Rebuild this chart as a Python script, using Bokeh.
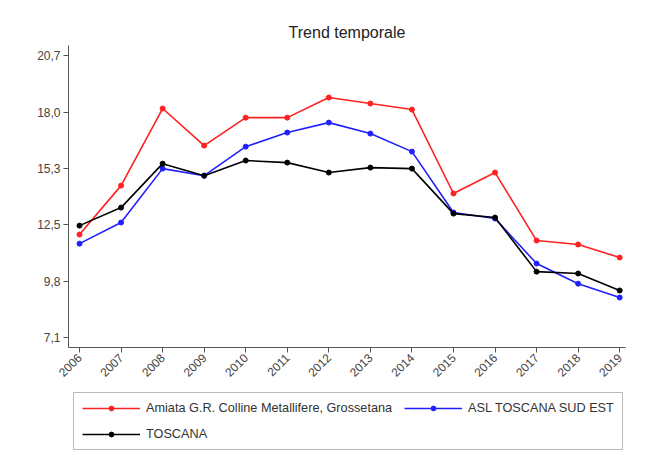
import math
from bokeh.plotting import figure
from bokeh.layouts import column
from bokeh.models import FixedTicker, Legend, LegendItem, Range1d
from bokeh.embed import file_html
from bokeh.resources import INLINE

years = [2006, 2007, 2008, 2009, 2010, 2011, 2012, 2013, 2014, 2015, 2016, 2017, 2018, 2019]
amiata = [12.07, 14.43, 18.15, 16.36, 17.71, 17.71, 18.68, 18.39, 18.10, 14.05, 15.06, 11.78, 11.59, 10.96]
asl_sud_est = [11.63, 12.65, 15.25, 14.91, 16.31, 16.99, 17.47, 16.94, 16.07, 13.13, 12.84, 10.67, 9.70, 9.03]
toscana = [12.50, 13.37, 15.49, 14.91, 15.64, 15.54, 15.06, 15.30, 15.25, 13.08, 12.89, 10.28, 10.19, 9.37]

y_ticks = [7.1, 9.82, 12.54, 15.26, 17.98, 20.7]
y_tick_labels = ["7,1", "9,8", "12,5", "15,3", "18,0", "20,7"]
series_names = ["Amiata G.R. Colline Metallifere, Grossetana", "ASL TOSCANA SUD EST", "TOSCANA"]
series_colors = ["#ff2020", "#2020ff", "#000000"]
series_values = [amiata, asl_sud_est, toscana]

FONT = "Liberation Sans"

p = figure(width=639, height=387, output_backend="svg", toolbar_location=None,
           x_range=Range1d(2005.735, 2019.14), y_range=Range1d(6.62, 21.19),
           min_border_left=68, min_border_right=14, min_border_top=45, min_border_bottom=40,
           background_fill_color="white", border_fill_color="white")
p.outline_line_color = None
p.grid.visible = False

p.title.text = "Trend temporale"
p.title.align = "center"
p.title.text_font = FONT
p.title.text_font_style = "normal"
p.title.text_font_size = "16px"
p.title.text_color = "#222222"

p.xaxis.ticker = FixedTicker(ticks=years)
p.xaxis.major_label_orientation = math.pi / 4
p.yaxis.ticker = FixedTicker(ticks=y_ticks)
p.yaxis.major_label_overrides = {t: l for t, l in zip(y_ticks, y_tick_labels)}
for ax in (p.xaxis[0], p.yaxis[0]):
    ax.axis_line_color = "#555555"
    ax.major_tick_line_color = "#555555"
    ax.minor_tick_line_color = None
    ax.major_tick_out = 5
    ax.major_tick_in = 0
    ax.major_label_text_font = FONT
    ax.major_label_text_font_size = "12px"
    ax.major_label_text_color = "#444444"
    ax.major_label_standoff = 3

for vals, col in zip(series_values, series_colors):
    p.line(years, vals, line_color=col, line_width=1.6)
    p.scatter(years, vals, marker="circle", size=5, fill_color=col, line_color=col)

# legend panel (separate figure below the chart)
lg = figure(width=639, height=70, output_backend="svg", toolbar_location=None,
            x_range=Range1d(0, 1), y_range=Range1d(0, 1),
            x_axis_type=None, y_axis_type=None,
            min_border_left=68, min_border_right=14, min_border_top=0, min_border_bottom=0,
            background_fill_color="white", border_fill_color="white")
lg.outline_line_color = None
lg.grid.visible = False
items = []
for name, col in zip(series_names, series_colors):
    r1 = lg.line([-10, -9], [-10, -9], line_color=col, line_width=1.6)
    r2 = lg.scatter([-10], [-10], marker="circle", size=5, fill_color=col, line_color=col)
    items.append(LegendItem(label=name, renderers=[r1, r2]))

legend = Legend(items=items, orientation="horizontal", ncols=2,
                location=(5, 7), border_line_color="#777777",
                label_text_font=FONT, label_text_font_size="12.7px", label_text_color="#333333",
                glyph_width=58, glyph_height=12, label_height=12, label_standoff=6,
                spacing=12, padding=8, margin=0)
lg.add_layout(legend, "center")

layout = column(p, lg, spacing=0)
open("out.html", "w").write(file_html(layout, INLINE))
